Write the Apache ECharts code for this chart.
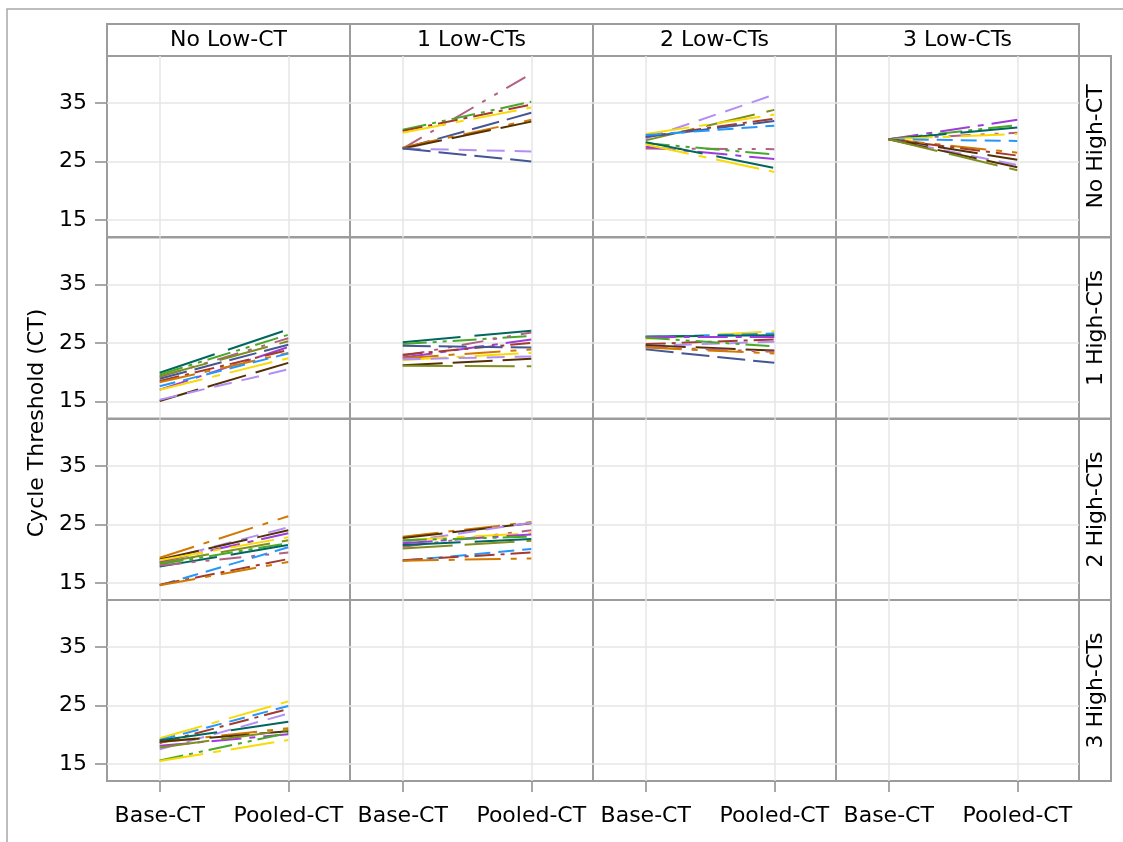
<!DOCTYPE html>
<html>
<head>
<meta charset="utf-8">
<script src="https://cdn.jsdelivr.net/npm/echarts@6/dist/echarts.min.js"></script>
<style>
html, body { margin: 0; padding: 0; background: #fff; }
#chart { width: 1123px; height: 842px; }
</style>
</head>
<body>
<div id="chart"></div>
<script>
var colLabels = ['No Low-CT', '1 Low-CTs', '2 Low-CTs', '3 Low-CTs'];
var rowLabels = ['No High-CT', '1 High-CTs', '2 High-CTs', '3 High-CTs'];
var xLabels = ['Base-CT', 'Pooled-CT'];
var yTicks = [15, 25, 35];

// group colours: navy, red, teal, brown, purple, olive, light blue, pink, orange, green, lavender, yellow
var palette = ['#445694', '#A23A2E', '#01665E', '#543005', '#9D3CDB', '#7F8E1F',
               '#2597FA', '#B26084', '#D17800', '#47A82A', '#B38EF3', '#F9DA04'];
var dashes = [[28, 8], [20, 6, 4, 6], [58, 14], [40, 10], [30, 8, 6, 8], [50, 12],
              [16, 8], [22, 10, 4, 10, 4, 10], [36, 10, 6, 10], [24, 6, 4, 6, 4, 6], [18, 10], [44, 10, 8, 10]];

// No High-CT / 1 Low-CTs
var r0c1Base   = [27.2, 30.4, 30.2, 29.9, 27.2, 27.4, 27.2, 27.2, 27.2];
var r0c1Pooled = [40.0, 35.2, 34.7, 34.2, 33.3, 32.1, 31.8, 26.7, 25.0];
var r0c1Color  = [7, 9, 1, 11, 0, 8, 3, 10, 0];
// No High-CT / 2 Low-CTs
var r0c2Base   = [28.9, 28.6, 29.7, 29.2, 29.2, 29.5, 27.2, 28.1, 27.5, 28.3, 27.9];
var r0c2Pooled = [36.4, 33.8, 33.0, 32.3, 31.9, 31.1, 27.1, 26.2, 25.4, 23.9, 23.2];
var r0c2Color  = [10, 5, 11, 1, 0, 6, 7, 9, 4, 2, 11];
// No High-CT / 3 Low-CTs
var r0c3Base   = [28.8, 28.8, 28.8, 28.8, 28.8, 28.8, 28.8, 28.8, 28.8, 28.8, 28.8, 28.8];
var r0c3Pooled = [32.1, 31.2, 30.8, 29.9, 29.7, 28.5, 26.5, 26.0, 25.3, 24.4, 24.0, 23.5];
var r0c3Color  = [4, 9, 2, 7, 11, 6, 8, 1, 3, 10, 3, 5];

// 1 High-CTs / No Low-CT
var r1c0Base   = [19.9, 19.6, 19.2, 19.3, 18.9, 17.0, 18.5, 18.3, 17.6, 17.0, 15.1, 15.3];
var r1c0Pooled = [27.3, 26.4, 25.8, 25.3, 24.7, 24.3, 23.8, 23.3, 23.2, 22.4, 21.6, 20.5];
var r1c0Color  = [2, 9, 7, 5, 0, 4, 1, 8, 6, 11, 3, 10];
// 1 High-CTs / 1 Low-CTs
var r1c1Base   = [25.1, 24.8, 22.8, 22.5, 23.0, 24.5, 22.4, 22.1, 22.2, 21.2, 21.1];
var r1c1Pooled = [27.1, 26.2, 26.8, 25.6, 25.0, 24.2, 23.9, 23.3, 22.7, 22.3, 21.0];
var r1c1Color  = [2, 9, 7, 4, 1, 0, 8, 11, 10, 3, 5];
// 1 High-CTs / 2 Low-CTs
var r1c2Base   = [25.7, 26.0, 26.1, 26.0, 24.8, 24.5, 25.9, 24.6, 24.3, 24.2, 23.9];
var r1c2Pooled = [27.0, 26.6, 26.3, 26.0, 25.6, 25.2, 24.4, 23.7, 23.5, 23.2, 21.6];
var r1c2Color  = [11, 6, 2, 4, 1, 10, 9, 3, 7, 8, 0];

// 2 High-CTs / No Low-CT
var r2c0Base   = [19.3, 18.8, 19.0, 18.6, 18.9, 18.4, 18.2, 17.8, 18.0, 14.6, 14.7, 14.6];
var r2c0Pooled = [26.4, 24.5, 24.0, 23.5, 22.8, 22.3, 21.8, 21.5, 20.2, 21.1, 19.1, 18.6];
var r2c0Color  = [8, 10, 3, 4, 11, 5, 9, 2, 7, 6, 1, 8];
// 2 High-CTs / 1 Low-CTs
var r2c1Base   = [22.9, 22.7, 22.0, 21.2, 22.3, 21.8, 22.3, 21.5, 20.9, 18.8, 18.9, 18.8];
var r2c1Pooled = [25.4, 25.2, 25.3, 24.0, 23.5, 23.3, 22.9, 22.5, 22.2, 20.8, 20.2, 19.2];
var r2c1Color  = [8, 3, 10, 7, 11, 4, 9, 2, 5, 6, 1, 8];

// 3 High-CTs / No Low-CT
var r3c0Base   = [19.4, 19.1, 18.6, 17.5, 19.0, 18.7, 18.8, 18.1, 17.8, 15.6, 15.5];
var r3c0Pooled = [25.7, 24.9, 24.4, 23.6, 22.2, 21.1, 20.6, 20.1, 20.8, 20.3, 19.1];
var r3c0Color  = [11, 6, 1, 10, 2, 8, 3, 4, 5, 9, 11];

var panels = [
  { row: 0, col: 1, base: r0c1Base, pooled: r0c1Pooled, color: r0c1Color },
  { row: 0, col: 2, base: r0c2Base, pooled: r0c2Pooled, color: r0c2Color },
  { row: 0, col: 3, base: r0c3Base, pooled: r0c3Pooled, color: r0c3Color },
  { row: 1, col: 0, base: r1c0Base, pooled: r1c0Pooled, color: r1c0Color },
  { row: 1, col: 1, base: r1c1Base, pooled: r1c1Pooled, color: r1c1Color },
  { row: 1, col: 2, base: r1c2Base, pooled: r1c2Pooled, color: r1c2Color },
  { row: 2, col: 0, base: r2c0Base, pooled: r2c0Pooled, color: r2c0Color },
  { row: 2, col: 1, base: r2c1Base, pooled: r2c1Pooled, color: r2c1Color },
  { row: 3, col: 0, base: r3c0Base, pooled: r3c0Pooled, color: r3c0Color }
];

var FONT = 'DejaVu Sans';
var colLeft = [107, 350, 593, 836];
var colW = 243;
var rowTop = [56, 237.5, 419, 600];
var rowH = 181;
var frameColor = '#9c9c9c';

var grids = [], xAxes = [], yAxes = [], series = [];
for (var r = 0; r < 4; r++) {
  for (var c = 0; c < 4; c++) {
    grids.push({
      left: colLeft[c], top: rowTop[r], width: colW, height: rowH,
      show: true, borderColor: frameColor, borderWidth: 2, backgroundColor: '#fff'
    });
    var gi = grids.length - 1;
    xAxes.push({
      gridIndex: gi, type: 'value', min: -0.41, max: 1.48, position: 'bottom',
      axisLine: { show: false, onZero: false },
      axisTick: { show: r === 3, customValues: [0, 1], length: 11, lineStyle: { color: '#8c8c8c', width: 1.5 } },
      axisLabel: {
        show: r === 3, customValues: [0, 1], margin: 24,
        fontFamily: FONT, fontSize: 22, color: '#000',
        formatter: function (v) { return xLabels[Math.round(v)]; }
      },
      splitLine: { show: true, lineStyle: { color: '#e6e6e6', width: 1.5 } }
    });
    yAxes.push({
      gridIndex: gi, type: 'value', min: 12.1, max: 43, position: 'left',
      axisLine: { show: false, onZero: false },
      axisTick: { show: c === 0, customValues: yTicks, length: 12, lineStyle: { color: '#8c8c8c', width: 1.5 } },
      axisLabel: { show: c === 0, customValues: yTicks, margin: 20, fontFamily: FONT, fontSize: 22, color: '#000' },
      splitLine: { show: true, lineStyle: { color: '#e6e6e6', width: 1.5 } }
    });
  }
}

panels.forEach(function (p) {
  var gi = p.row * 4 + p.col;
  p.base.forEach(function (b, i) {
    var ci = p.color[i];
    series.push({
      type: 'line', xAxisIndex: gi, yAxisIndex: gi,
      symbol: 'none', silent: true, animation: false,
      data: [[0, b], [1, p.pooled[i]]],
      lineStyle: { color: palette[ci], width: 2, type: dashes[ci] }
    });
  });
});

var graphics = [];
// outer frame
graphics.push({ type: 'rect', shape: { x: 7, y: 9, width: 1140, height: 860 }, style: { fill: 'none', stroke: '#a8a8a8', lineWidth: 1.5 }, silent: true });
// column headers
colLabels.forEach(function (t, c) {
  graphics.push({ type: 'rect', shape: { x: colLeft[c], y: 24, width: colW, height: 32 }, style: { fill: '#fff', stroke: frameColor, lineWidth: 2 }, silent: true });
  graphics.push({ type: 'text', x: colLeft[c] + colW / 2, y: 40, style: { text: t, font: '22px "' + FONT + '"', fill: '#000', align: 'center', verticalAlign: 'middle' }, silent: true });
});
// row strips
rowLabels.forEach(function (t, r) {
  graphics.push({ type: 'rect', shape: { x: 1079, y: rowTop[r], width: 32, height: rowH }, style: { fill: '#fff', stroke: frameColor, lineWidth: 2 }, silent: true });
  graphics.push({ type: 'text', x: 1096, y: rowTop[r] + rowH / 2, rotation: Math.PI / 2, style: { text: t, font: '22px "' + FONT + '"', fill: '#000', align: 'center', verticalAlign: 'middle' }, silent: true });
});
// y-axis title
graphics.push({ type: 'text', x: 37, y: 423, rotation: Math.PI / 2, style: { text: 'Cycle Threshold (CT)', font: '22px "' + FONT + '"', fill: '#000', align: 'center', verticalAlign: 'middle' }, silent: true });

var chart = echarts.init(document.getElementById('chart'));
chart.setOption({
  backgroundColor: '#fff',
  animation: false,
  grid: grids,
  xAxis: xAxes,
  yAxis: yAxes,
  series: series,
  graphic: graphics
});
</script>
</body>
</html>
